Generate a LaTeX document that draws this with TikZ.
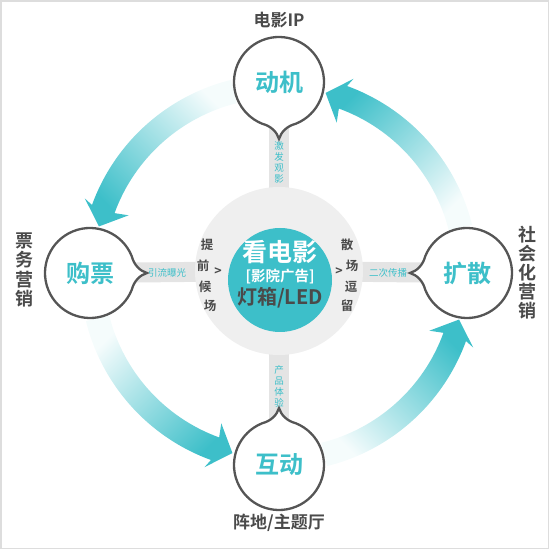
\documentclass[tikz,border=0pt]{standalone}
\usepackage{fontspec}
\setmainfont{Noto Sans CJK SC}[BoldFont=* Bold]
\usetikzlibrary{backgrounds}
\definecolor{tealc}{HTML}{3DBFC9}
\definecolor{txtc}{HTML}{4A4A4A}
\definecolor{ringc}{HTML}{EFEFEF}
\definecolor{barc}{HTML}{E4E4E4}
\definecolor{outc}{HTML}{555555}
\definecolor{framec}{HTML}{DDDDDD}
\newcommand\mybubble[2]{%
  \begin{scope}[shift={#1},rotate=#2]
    \filldraw[bubbleline] (-68:45) arc[start angle=-68,end angle=248,radius=45]
      .. controls (-8,-44) and (-2,-50) .. (0,-57)
      .. controls (2,-50) and (8,-44) .. (-68:45) -- cycle;
  \end{scope}}
\begin{document}
\begin{tikzpicture}[x=1pt,y=1pt,
  bubbleline/.style={draw=outc, fill=white, line width=2.3pt},
  bubbletext/.style={circle, minimum size=90pt, inner sep=0pt, text=tealc, font=\fontsize{24}{26}\selectfont\bfseries},
  outlabel/.style={text=txtc, font=\fontsize{17}{19.5}\selectfont\bfseries, align=center, inner sep=0pt},
  barline/.style={draw=barc, line width=20pt},
  barlabel/.style={text=tealc, font=\fontsize{9.5}{11}\selectfont, align=center, inner sep=0pt},
  sidechar/.style={text=txtc, font=\fontsize{12.5}{14}\selectfont\bfseries, inner sep=0pt}]
\useasboundingbox (0,0) rectangle (550,552);
\draw[framec, line width=1.5pt] (1,3.5) rectangle (548.5,551);

% gradient arrows
\begin{scope}[shift={(279,279)}]
\foreach \k in {0,1,2,3}{
  \pgfmathsetmacro\aS{14+90*\k}
  \pgfmathsetmacro\aB{70+90*\k}
  \pgfmathsetmacro\aT{75.5+90*\k}
  \pgfmathsetmacro\aW{69+90*\k}
  \pgfmathsetmacro\aM{45+90*\k}
  \shade[top color=tealc, bottom color=tealc!5!white, shading angle=\aM]
    (\aS:175) arc[start angle=\aS, end angle=\aB, radius=175]
    -- (\aW:161) -- (\aT:186) -- (\aW:208) -- (\aB:199)
    arc[start angle=\aB, end angle=\aS, radius=199] -- cycle;
}
\end{scope}

% hub
\node[circle, fill=ringc, minimum size=168pt, inner sep=0pt] (hub) at (279,281) {};
\node[circle, fill=tealc, minimum size=104pt, inner sep=0pt] (core) at (280,272) {};
\node[text=white, font=\fontsize{25}{27}\selectfont\bfseries, inner sep=0pt] (t1) at (280,300) {看电影};
\node[text=white, font=\fontsize{14.5}{16}\selectfont\bfseries, inner sep=0pt] (t2) at (280,275) {[影院广告]};
\node[text=txtc, font=\fontsize{20}{22}\selectfont\bfseries, inner sep=0pt] (t3) at (280,254) {灯箱/LED};

% side characters
\node[sidechar] (sl1) at (207,307) {提};
\node[sidechar] (sl2) at (203,286) {前};
\node[sidechar] (sl3) at (205,265) {候};
\node[sidechar] (sl4) at (210,246) {场};
\node[sidechar] (sl5) at (218,280) {>};
\node[sidechar] (sr1) at (347,307) {散};
\node[sidechar] (sr2) at (352,286) {场};
\node[sidechar] (sr3) at (351,265) {逗};
\node[sidechar] (sr4) at (347,246) {留};
\node[sidechar] (sr5) at (339,280) {>};

% bubbles
\mybubble{(279,470)}{0}
\mybubble{(90,279)}{90}
\mybubble{(467,279)}{-90}
\mybubble{(279,87)}{180}
\node[bubbletext] (dongji) at (279,470) {动机};
\node[bubbletext] (goupiao) at (90,279) {购票};
\node[bubbletext] (kuosan) at (467,279) {扩散};
\node[bubbletext] (hudong) at (279,87) {互动};

% bars (connectors)
\begin{scope}[on background layer]
\draw[barline] (dongji.center) -- (hub.center);
\draw[barline] (goupiao.center) -- (hub.center);
\draw[barline] (kuosan.center) -- (hub.center);
\draw[barline] (hudong.center) -- (hub.center);
\end{scope}
\node[barlabel] (b1) at (279,390) {激\\发\\观\\影};
\node[barlabel] (b2) at (167,279) {引流曝光};
\node[barlabel] (b3) at (388,279) {二次传播};
\node[barlabel] (b4) at (279,166) {产\\品\\体\\验};

% outer labels
\node[outlabel] (o1) at (279,532) {电影IP};
\node[outlabel, font=\fontsize{18}{19.5}\selectfont\bfseries] (o2) at (25,282) {票\\务\\营\\销};
\node[outlabel, font=\fontsize{18}{19}\selectfont\bfseries] (o3) at (527,279) {社\\会\\化\\营\\销};
\node[outlabel] (o4) at (279,29) {阵地/主题厅};
\end{tikzpicture}
\end{document}
